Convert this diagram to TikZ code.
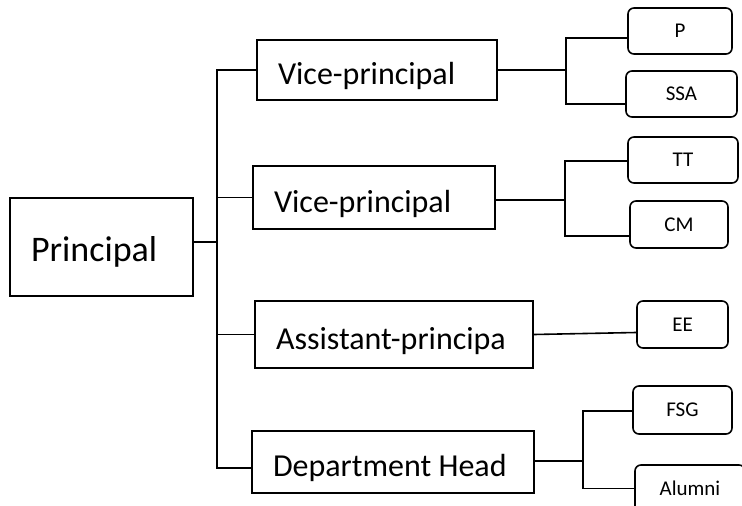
\documentclass[tikz,border=0pt]{standalone}
\usepackage{fontspec}
\setmainfont{Carlito}
\newcommand{\lefttext}[2]{\makebox[#1][l]{#2}}

\begin{document}
\begin{tikzpicture}[x=1pt,y=-1pt,line width=1.6pt,
		bigbox/.style={draw,rectangle,inner xsep=21pt,inner ysep=0pt,
			text height=29pt,text depth=0pt,font=\fontsize{32}{36}\selectfont},
		smallbox/.style={draw,rectangle,rounded corners=6pt,inner sep=0pt,
			font=\fontsize{21}{25}\selectfont}]
		\useasboundingbox (0,0) rectangle (742,506);
		\clip (0,0) rectangle (742,506);
		% Boxes
		\node[bigbox,font=\fontsize{36}{40}\selectfont,minimum height=98pt] (principal) at (101.5,247) {\lefttext{141pt}{Principal}};
		\node[bigbox,minimum height=60pt] (vpa) at (377,70) {\lefttext{198pt}{Vice-principal}};
		\node[bigbox,minimum height=63pt] (vpb) at (374,197.5) {\lefttext{200pt}{Vice-principal}};
		\node[bigbox,minimum height=67pt] (ap) at (394,334.5) {\lefttext{236pt}{Assistant-principa}};
		\node[bigbox,minimum height=62pt] (dh) at (393,462) {\lefttext{240pt}{Department Head}};
		% Small boxes
		\node[smallbox,minimum width=104pt,minimum height=46pt] (p) at (680,31) {P};
		\node[smallbox,minimum width=111pt,minimum height=46pt] (ssa) at (681.5,94) {SSA};
		\node[smallbox,minimum width=110pt,minimum height=46pt] (tt) at (683,160) {TT};
		\node[smallbox,minimum width=98pt,minimum height=47pt] (cm) at (679,224.5) {CM};
		\node[smallbox,minimum width=91pt,minimum height=47pt] (ee) at (682.5,324.5) {EE};
		\node[smallbox,minimum width=99pt,minimum height=48pt] (fsg) at (682.5,410) {FSG};
		\node[smallbox,minimum width=110pt,minimum height=47pt] (alumni) at (690,488.5) {Alumni};
		% Forks
		\coordinate (trunk) at (217,242);
		\coordinate (vpa fork) at (566,70);
		\coordinate (vpb fork) at (565,200);
		\coordinate (dh fork) at (583,461);
		% Left tree
		\draw ([yshift=5pt]principal.east) -- (trunk);
		\draw (vpa.west) -| (trunk) |- ([yshift=-6pt]dh.west);
		\draw (trunk |- vpb.west) -- (vpb.west);
		\draw (trunk |- ap.west) -- (ap.west);
		% Right trees
		\draw (vpa.east) -- (vpa fork);
		\draw ([yshift=-7pt]p.west) -| (vpa fork) |- ([yshift=-10pt]ssa.west);
		\draw ([yshift=-2.5pt]vpb.east) -- (vpb fork);
		\draw ([yshift=-1pt]tt.west) -| (vpb fork) |- ([yshift=-11.5pt]cm.west);
		\draw (ap.east) -- ([yshift=-8pt]ee.west);
		\draw ([yshift=1pt]dh.east) -- (dh fork);
		\draw ([yshift=-1pt]fsg.west) -| (dh fork) |- (alumni.west);
	\end{tikzpicture}
\end{document}
